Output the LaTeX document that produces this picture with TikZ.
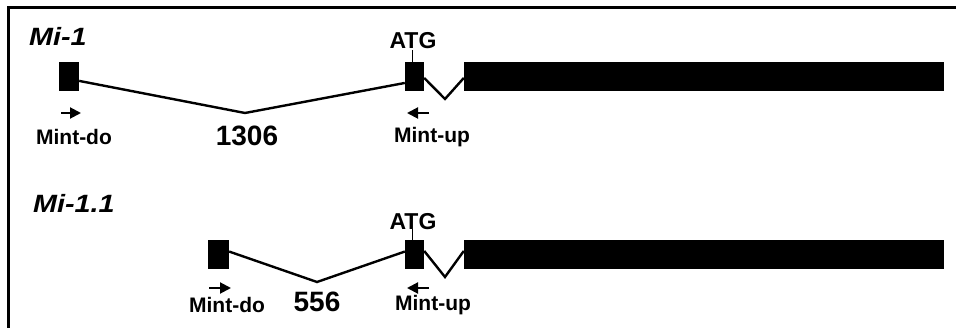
\documentclass[tikz,border=0pt]{standalone}
\usepackage{fontspec}
\setmainfont{Liberation Sans}
\usetikzlibrary{arrows.meta,calc}
\begin{document}
\begin{tikzpicture}[x=1pt,y=-1pt,
  exon/.style={draw=none,fill=black,inner sep=0pt,minimum height=29pt},
  intron/.style={line width=2.4pt,line join=miter},
  primer/.style={line width=2pt,-{Triangle[length=11pt,width=11pt]}},
  lbl/.style={font=\fontsize{21}{23}\selectfont\bfseries,inner sep=0pt},
  num/.style={font=\fontsize{28}{30}\selectfont\bfseries,inner sep=0pt},
  atg/.style={font=\fontsize{23}{25}\selectfont\bfseries,inner sep=0pt},
  gene/.style={font=\fontsize{25}{27}\selectfont\bfseries\itshape,inner sep=0pt,anchor=west,xscale=1.15}]
\useasboundingbox (0,0) rectangle (956,328);
\fill[white] (0,0) rectangle (956,328);
% frame
\draw[line width=2.5pt] (956,7.5) -- (8.5,7.5) -- (8.5,328);

% ---------- row 1 ----------
\node[gene] (g1) at (29,36) {Mi-1};
\node[exon,minimum width=20pt] (e1) at (69,76.5) {};
\node[exon,minimum width=19pt] (a1) at (414.5,76.5) {};
\node[exon,minimum width=480pt] (b1) at (704,76.5) {};
\coordinate (v1) at (245,113);
\coordinate (w1) at (445,99);
\draw[intron] ($(e1.north east)!0.65!(e1.south east)$) -- (v1) -- ($(a1.north west)!0.72!(a1.south west)$);
\draw[intron] ($(a1.north east)!0.55!(a1.south east)$) -- (w1) -- ($(b1.north west)!0.55!(b1.south west)$);
\node[atg] (t1) at (413,41) {ATG};
\draw[line width=0.8pt] ($(a1.north)+(-2,0)$) -- ++(0,-12);
\coordinate (pd1s) at (61,113);
\coordinate (pd1e) at (81,113);
\coordinate (pu1s) at (429,113);
\coordinate (pu1e) at (407,113);
\draw[primer] (pd1s) -- (pd1e);
\draw[primer] (pu1s) -- (pu1e);
\node[lbl] (md1) at (74,137) {Mint-do};
\node[num] (n1) at (247,136) {1306};
\node[lbl] (mu1) at (432,137) {Mint-up};

% ---------- row 2 ----------
\node[gene] (g2) at (33,203) {Mi-1.1};
\node[exon,minimum width=21pt] (e2) at (218.5,254.5) {};
\node[exon,minimum width=19pt] (a2) at (414.5,254.5) {};
\node[exon,minimum width=480pt] (b2) at (704,254.5) {};
\coordinate (v2) at (317,282);
\coordinate (w2) at (445,277);
\draw[intron] ($(e2.north east)!0.40!(e2.south east)$) -- (v2) -- ($(a2.north west)!0.40!(a2.south west)$);
\draw[intron] ($(a2.north east)!0.38!(a2.south east)$) -- (w2) -- ($(b2.north west)!0.38!(b2.south west)$);
\node[atg] (t2) at (413,222) {ATG};
\draw[line width=0.8pt] ($(a2.north)+(-2,0)$) -- ++(0,-11);
\coordinate (pd2s) at (209,288);
\coordinate (pd2e) at (231,288);
\coordinate (pu2s) at (429,288);
\coordinate (pu2e) at (407,288);
\draw[primer] (pd2s) -- (pd2e);
\draw[primer] (pu2s) -- (pu2e);
\node[lbl] (md2) at (227,305) {Mint-do};
\node[num] (n2) at (317,302) {556};
\node[lbl] (mu2) at (433,305) {Mint-up};
\end{tikzpicture}
\end{document}
